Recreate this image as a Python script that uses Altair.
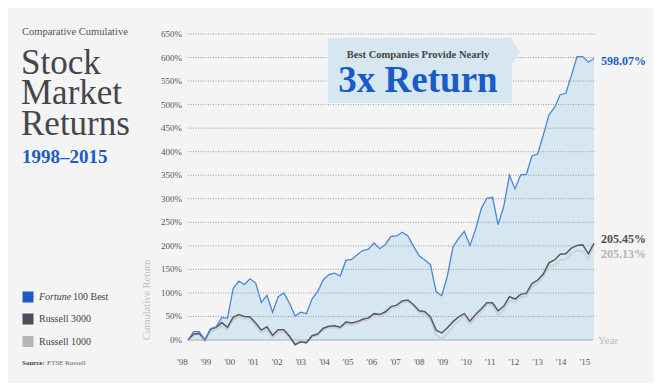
import altair as alt
import pandas as pd

# ---- data ----
fortune = [0, 17.6, 17.6, 0, 24, 28, 48, 46, 109, 125, 118, 130, 121, 80, 95, 59, 92, 100,
           78, 51, 59, 56, 87, 103, 128, 139, 142, 136, 169, 171, 181, 190, 193, 206, 194, 203,
           220, 221, 229, 221, 199, 179, 170, 160, 103, 94, 136, 198, 216, 231, 201, 235, 279,
           301, 303, 245, 284, 350, 321, 351, 352, 391, 395, 435, 478, 494, 521, 524, 562,
           602, 602, 590, 598.07]
russell3000 = [0, 12.7, 14, 0, 23, 27, 37, 27, 48, 54, 50, 49, 36, 21, 28, 10, 22, 22,
               8, -10, -4, -6, 9, 12.7, 25, 29, 30, 27, 38, 36, 39, 44, 47, 56, 54, 60,
               71, 74, 83, 85, 75, 62, 60, 49, 21, 15, 26, 39, 49, 56, 40, 54, 66,
               79, 79, 62, 72, 92, 87, 97, 99, 120, 127, 140, 164, 170, 182, 183, 195,
               201, 202, 183, 205.45]
russell1000 = [0, 10, 12, -2, 17, 22, 30, 22, 42, 49, 44, 44, 30, 15, 22, 5, 16, 17,
               4, -8, -2, -4, 7, 10, 22, 26, 27, 24, 34, 32, 35, 40, 43, 51, 50, 55,
               67, 70, 79, 81, 72, 58, 54, 42, 11, 2, 14, 30, 40, 51, 34, 47, 60,
               74, 74, 53, 65, 84, 80, 91, 92, 113, 120, 134, 156, 159, 171, 171, 184,
               190, 189, 171, 205.13]
years = list(range(1998, 2016))
year_labels = ["'98", "'99", "'00", "'01", "'02", "'03", "'04", "'05", "'06", "'07",
               "'08", "'09", "'10", "'11", "'12", "'13", "'14", "'15"]
y_ticks = list(range(0, 651, 50))

# time grid of the observations (decimal years)
n = len(fortune)
t = [1998 + (i + 1) / 4.2 for i in range(n)]

df = pd.DataFrame({"t": t, "fortune": fortune, "r3000": russell3000, "r1000": russell1000})
df["low"] = df[["r3000", "r1000"]].min(axis=1).clip(upper=0)

W, H = 406, 306
SERIF = "Liberation Serif"
BLUE = "#1a5bc8"
LINEBLUE = "#4a86d6"
DARK = "#4c4f59"
GRAY = "#b5b5b5"
FILL = "#d6e7f2"

xs = alt.Scale(domain=[t[0], t[-1]], nice=False, zero=False)
ys = alt.Scale(domain=[0, 650], nice=False, zero=False)
X = alt.X("t:Q", scale=xs, axis=None)

base = alt.Chart(df)

area = base.mark_area(color=FILL, opacity=1).encode(
    x=X, y=alt.Y("fortune:Q", scale=ys, axis=None), y2="low:Q")

ticks_df = pd.DataFrame({"v": y_ticks, "lab": [f"{v}%" for v in y_ticks]})

grid = alt.Chart(ticks_df[ticks_df.v > 0]).mark_rule(
    color="#9a9a9a", strokeDash=[1, 1.5], strokeWidth=1
).encode(y=alt.Y("v:Q", scale=ys, axis=None), x=alt.value(0), x2=alt.value(W))

ylab = alt.Chart(ticks_df).mark_text(
    align="right", baseline="middle", font=SERIF, fontSize=9, color="#555555"
).encode(y=alt.Y("v:Q", scale=ys, axis=None), x=alt.value(-6), text="lab:N")

zero = alt.Chart(pd.DataFrame({"v": [0]})).mark_rule(color="#aaaaaa", strokeWidth=1).encode(
    y=alt.Y("v:Q", scale=ys, axis=None), x=alt.value(0), x2=alt.value(W - 1))

one = pd.DataFrame({"a": [0]})

def txt(s, x, y, size, color, weight="normal", style="normal", align="left",
        baseline="alphabetic", angle=0):
    return alt.Chart(one).mark_text(
        text=s, fontSize=size, font=SERIF, color=color, fontWeight=weight,
        fontStyle=style, align=align, baseline=baseline, angle=angle
    ).encode(x=alt.value(x), y=alt.value(y))

box = alt.Chart(one).mark_rect(color=FILL).encode(
    x=alt.value(140), x2=alt.value(324), y=alt.value(4), y2=alt.value(69))
pointer = alt.Chart(one).mark_point(
    shape="M-0.35,-1L0.35,0L-0.35,1Z", size=576, filled=True, color=FILL, opacity=1
).encode(x=alt.value(328), y=alt.value(17.5))

line_r1000 = base.mark_line(color="#cfcfcf", strokeWidth=1.8).encode(
    x=X, y=alt.Y("r1000:Q", scale=ys, axis=None))
line_r3000 = base.mark_line(color="#555964", strokeWidth=1.5).encode(
    x=X, y=alt.Y("r3000:Q", scale=ys, axis=None))
line_f = base.mark_line(color=LINEBLUE, strokeWidth=1.3).encode(
    x=X, y=alt.Y("fortune:Q", scale=ys, axis=None))

last = df.iloc[[-1]].copy()
last["lf"] = last["fortune"].map(lambda v: f"{v:.2f}%")
last["l3"] = last["r3000"].map(lambda v: f"{v:.2f}%")
last["l1"] = last["r1000"].map(lambda v: f"{v:.2f}%")
lab_f = alt.Chart(last).mark_text(align="left", baseline="middle", dx=7, dy=3, font=SERIF,
                                  fontSize=12, fontWeight="bold", color=BLUE).encode(
    x=X, y=alt.Y("fortune:Q", scale=ys, axis=None), text="lf:N")
lab_3 = alt.Chart(last).mark_text(align="left", baseline="middle", dx=7, dy=-4, font=SERIF,
                                  fontSize=12, fontWeight="bold", color=DARK).encode(
    x=X, y=alt.Y("r3000:Q", scale=ys, axis=None), text="l3:N")
lab_1 = alt.Chart(last).mark_text(align="left", baseline="middle", dx=7, dy=11, font=SERIF,
                                  fontSize=12, fontWeight="bold", color=GRAY).encode(
    x=X, y=alt.Y("r1000:Q", scale=ys, axis=None), text="l1:N")

xlab = alt.Chart(pd.DataFrame({"year": years, "lab": year_labels})).mark_text(
    baseline="middle", align="center", font=SERIF, fontSize=9, color="#555555"
).encode(x=alt.X("year:Q", scale=xs, axis=None), y=alt.value(328), text="lab:N")

legend_sq = alt.Chart(pd.DataFrame({"s": ["Fortune 100 Best", "Russell 3000", "Russell 1000"],
                                    "c": [BLUE, DARK, GRAY],
                                    "yy": [263, 285, 307.5]})).mark_square(
    size=121, opacity=1, filled=True
).encode(x=alt.value(-160), y=alt.Y("yy:Q", scale=None), color=alt.Color("c:N", scale=None))

texts = [
    txt("Comparative Cumulative", -166, 1, 10.5, "#555555"),
    txt("Stock", -167, 40, 35, "#45464d"),
    txt("Market", -167, 70, 35, "#45464d"),
    txt("Returns", -167, 101, 35, "#45464d"),
    txt("1998\u20132015", -166, 128.5, 19, BLUE, weight="bold"),
    txt("Fortune", -149, 263, 10, "#444444", style="italic", baseline="middle"),
    txt("100 Best", -115, 263, 10, "#444444", baseline="middle"),
    txt("Russell 3000", -149, 285, 10, "#444444", baseline="middle"),
    txt("Russell 1000", -149, 307.5, 10, "#444444", baseline="middle"),
    txt("Source:", -166, 329, 7, "#444444", weight="bold", baseline="middle"),
    txt("FTSE Russell", -141, 329, 7, "#666666", baseline="middle"),
    txt("Cumulative Return", -41, 306, 10.5, "#bdbdbd", align="left", baseline="middle", angle=270),
    txt("Year", 410, 307, 11, "#bdbdbd", baseline="middle"),
    txt("Best Companies Provide Nearly", 230, 24, 10.5, "#444444", weight="bold", align="center"),
    txt("3x Return", 230, 57.5, 37, BLUE, weight="bold", align="center"),
]

chart = alt.layer(
    area, grid, zero, ylab, box, pointer, line_r1000, line_r3000, line_f,
    lab_f, lab_3, lab_1, xlab, legend_sq, *texts
).properties(
    width=W, height=H,
    padding={"left": 180, "top": 26, "right": 59, "bottom": 43},
    autosize=alt.AutoSizeParams(type="none"),
    background="#f4f4f4",
).configure_view(stroke=None)

chart.save("out.html", embed_options={"renderer": "svg", "actions": False})
